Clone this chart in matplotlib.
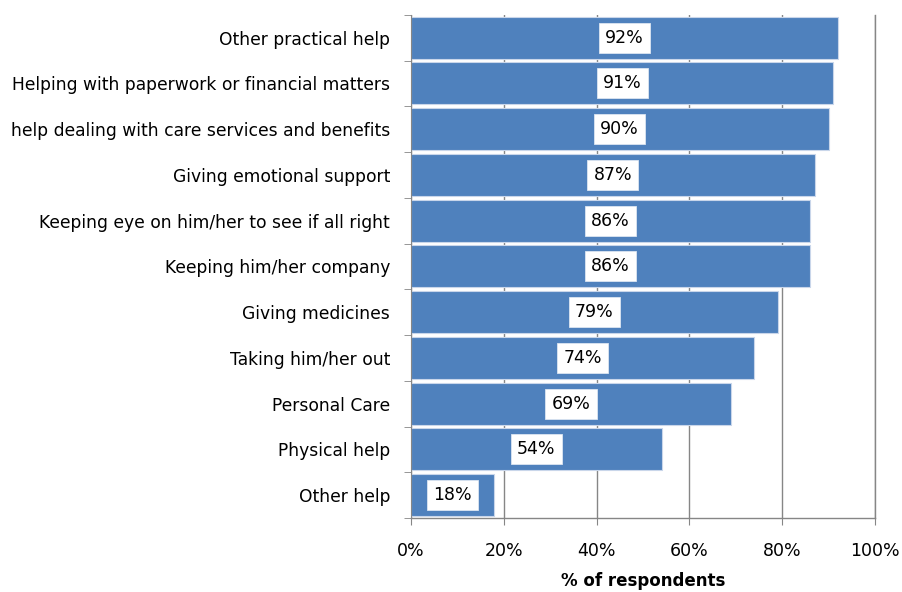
import numpy as np
import matplotlib
matplotlib.use('Agg')
import matplotlib.pyplot as plt
from matplotlib.ticker import FixedLocator, PercentFormatter

# --------
# Data
# --------
categories = ['Other practical help',
              'Helping with paperwork or financial matters',
              'help dealing with care services and benefits',
              'Giving emotional support',
              'Keeping eye on him/her to see if all right',
              'Keeping him/her company',
              'Giving medicines',
              'Taking him/her out',
              'Personal Care',
              'Physical help',
              'Other help']
values = [92, 91, 90, 87, 86, 86, 79, 74, 69, 54, 18]
xticks = [0, 20, 40, 60, 80, 100]

plt.rcParams['font.family'] = ['DejaVu Sans']

fig = plt.figure(figsize=(9.03, 5.92), dpi=100)
ax = fig.add_axes([0.455, 0.125, 0.514, 0.85])

y = np.arange(len(categories))
ax.barh(y, values, height=0.92, color='#4f81bd', edgecolor='#c9d6ea', linewidth=0.8, zorder=2)

# value labels, centered in the bar on a white box
for yi, v in zip(y, values):
    ax.text(v / 2, yi, f'{v}%', ha='center', va='center', fontsize=12.5, color='black', zorder=3,
            bbox=dict(boxstyle='square,pad=0.35', facecolor='white', edgecolor='#dce6f2', linewidth=0.6))

# ---------
# Axes
# ---------
ax.set_xlim(0, 100)
ax.set_ylim(len(categories) - 0.5, -0.5)
ax.set_xticks(xticks)
ax.xaxis.set_major_formatter(PercentFormatter(decimals=0))
ax.set_yticks(y)
ax.set_yticklabels(categories, fontsize=12.3)
ax.yaxis.set_minor_locator(FixedLocator(np.arange(-0.5, len(categories), 1)))
ax.tick_params(axis='y', which='major', length=0, pad=15)
ax.tick_params(axis='y', which='minor', length=5, color='#868686', direction='out')
ax.tick_params(axis='x', length=5, color='#868686', labelsize=12.5, pad=12)

ax.grid(axis='x', color='#868686', lw=1, zorder=0)
ax.set_axisbelow(True)
for s in ['top', 'right', 'bottom']:
    ax.spines[s].set_visible(False)
ax.spines['left'].set_color('#868686')
ax.axhline(len(categories) - 0.5, color='#868686', lw=1, zorder=1, clip_on=False)
ax.axvline(100, color='#868686', lw=1, zorder=1, clip_on=False)

ax.set_xlabel('% of respondents', fontsize=12, fontweight='bold', labelpad=9)

fig.savefig('out.png', dpi=100)
